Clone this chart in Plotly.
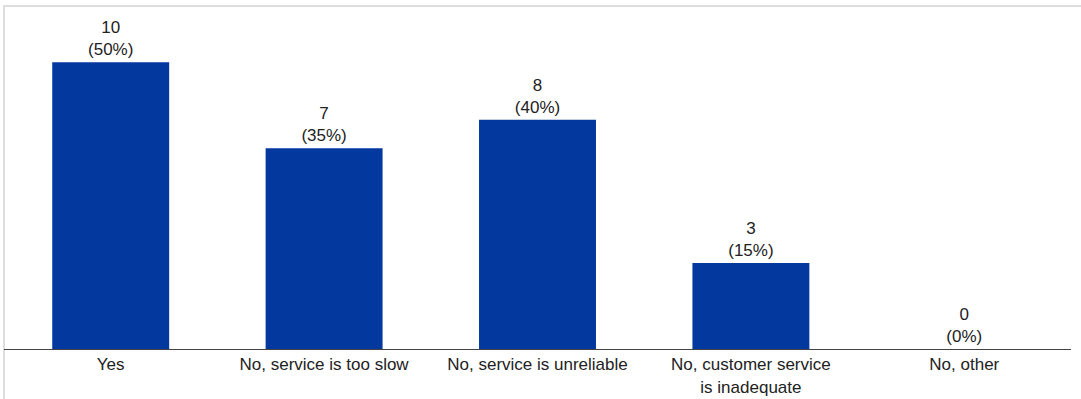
import plotly.graph_objects as go

categories = ["Yes", "No, service is too slow", "No, service is unreliable",
              "No, customer service<br>is inadequate", "No, other"]
counts = [10, 7, 8, 3, 0]
percents = [50, 35, 40, 15, 0]

labels = [f"{c}<br>({p}%)" for c, p in zip(counts, percents)]

W, H = 1081, 399
L, R, T, B = 4, 10, 5, 50
ph = H - T - B
FONT = "Liberation Sans, Arial, sans-serif"

fig = go.Figure(go.Bar(
    x=categories, y=counts, text=labels, textposition="outside",
    marker=dict(color="#03399E", line=dict(width=0)),
    textfont=dict(family=FONT, size=17, color="#222222"),
    cliponaxis=False,
))

fig.update_layout(
    width=W, height=H,
    margin=dict(l=L, r=R, t=T, b=B, autoexpand=False),
    paper_bgcolor="white", plot_bgcolor="white",
    bargap=0.452,
    showlegend=False,
    font=dict(family=FONT, size=17, color="#222222"),
    xaxis=dict(showline=True, linecolor="#444444", linewidth=1, ticks="",
               showgrid=False, automargin=False,
               tickfont=dict(size=17, color="#222222")),
    yaxis=dict(range=[0, 12], visible=False, showgrid=False),
    shapes=[dict(type="rect", xref="paper", yref="paper",
                 x0=-0.0, x1=1.2, y0=-0.5, y1=1 - 1.0 / ph,
                 line=dict(color="#DDDDDD", width=2), layer="below")],
)

fig.write_html("out.html", config={"displayModeBar": False},
               post_script="document.body.style.margin='0';document.body.style.overflow='hidden';")
